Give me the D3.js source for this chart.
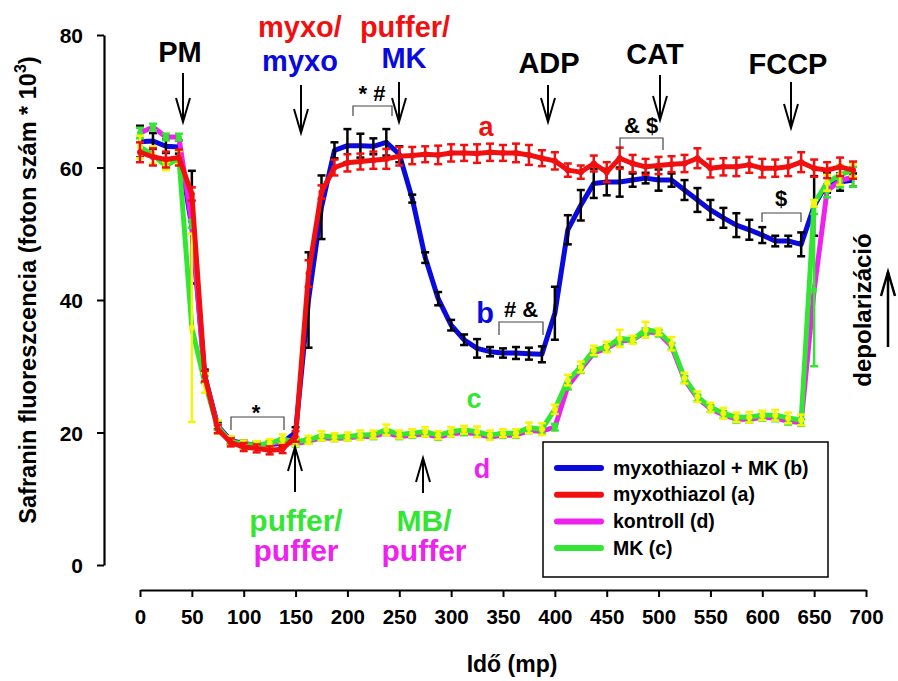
<!DOCTYPE html>
<html><head><meta charset="utf-8">
<script src="https://cdn.jsdelivr.net/npm/d3@7"></script>
<style>
body{margin:0;background:#fff}
svg text{font-family:"Liberation Sans",Arial,sans-serif;font-weight:bold}
</style>
</head><body><svg id="chart" width="898" height="681"></svg>
<script>
// ---- data ----
const time = [0,12.5,25,37.5,50,62.5,75,87.5,100,112.5,125,137.5,150,162.5,175,187.5,200,212.5,225,237.5,250,262.5,275,287.5,300,312.5,325,337.5,350,362.5,375,387.5,400,412.5,425,437.5,450,462.5,475,487.5,500,512.5,525,537.5,550,562.5,575,587.5,600,612.5,625,637.5,650,662.5,675,687.5];

const valB = [63.9,64.0,63.2,63.1,51.0,28.5,21.0,18.8,18.3,18.1,18.1,18.5,20.0,40.0,54.0,62.6,63.3,63.3,63.2,63.8,62.0,55.3,46.4,40.2,36.2,34.0,32.7,32.2,32.0,32.0,31.9,31.8,38.0,50.6,54.3,57.6,57.8,57.8,58.1,58.4,58.1,58.1,56.6,55.1,53.6,52.4,51.3,50.6,49.8,48.9,48.9,48.4,54.2,57.7,57.8,58.1];
const errB = [2.4,1.2,1.0,1.0,8.5,1.0,0.5,0.5,0.5,0.5,0.5,0.5,0.8,7.2,4.8,1.2,2.5,1.8,1.2,2.0,1.2,0.6,0.8,1.0,0.8,0.8,1.4,0.7,0.7,0.9,0.9,1.2,4.0,2.2,2.3,2.2,2.0,2.2,1.0,0.8,1.6,1.0,1.5,1.8,1.5,1.5,1.8,1.5,1.2,0.8,0.8,1.8,4.5,1.5,1.3,1.0];

const valA = [62.3,61.6,61.2,61.5,56.0,28.5,20.5,18.5,17.8,17.6,17.3,17.5,19.4,44.0,56.3,60.0,60.7,60.9,61.1,61.3,61.7,61.8,62.0,61.9,62.2,62.2,62.1,62.3,62.2,62.2,61.9,61.4,61.0,59.6,59.3,60.6,59.3,61.4,60.6,60.1,60.3,60.5,60.6,61.4,59.9,60.1,60.1,60.4,59.9,59.9,60.1,60.8,59.9,59.6,60.1,59.6];
const errA = [1.5,1.3,1.2,1.2,1.0,0.8,0.6,0.6,0.6,0.6,0.6,0.6,0.8,2.0,1.0,1.2,1.3,1.2,1.3,1.5,1.4,1.3,1.2,1.4,1.3,1.2,1.4,1.3,1.2,1.4,1.5,1.2,1.3,1.0,1.0,1.2,1.5,1.6,1.3,1.2,1.3,1.2,1.3,1.5,1.4,1.3,1.4,1.2,1.4,1.3,1.4,1.5,1.3,1.2,1.4,1.3];

const valD = [65.2,66.1,64.6,64.6,51.5,28.0,20.8,18.6,18.0,18.0,18.2,18.7,18.3,18.7,19.2,19.1,19.2,19.4,19.4,20.0,19.4,19.6,19.8,19.3,19.8,20.0,19.8,19.3,19.6,19.6,20.3,20.2,20.8,27.0,29.5,32.0,32.7,33.8,34.0,35.2,35.0,33.0,28.0,25.2,23.6,22.7,22.0,22.0,22.3,22.2,21.7,21.5,41.5,56.5,58.0,58.6];
const errD = [0.8,0.5,0.5,0.5,0.6,0.5,0.4,0.4,0.4,0.4,0.4,0.4,0.4,0.4,0.4,0.4,0.4,0.4,0.4,0.4,0.4,0.4,0.4,0.4,0.4,0.4,0.4,0.4,0.4,0.4,0.4,0.4,0.5,0.5,0.5,0.5,0.5,0.5,0.5,0.5,0.5,0.5,0.5,0.5,0.5,0.5,0.5,0.5,0.5,0.5,0.5,0.5,11.5,1.0,1.0,1.5];

const valC = [63.1,61.9,60.2,61.5,35.8,27.5,20.8,18.7,18.2,18.1,18.4,19.0,18.6,18.9,19.5,19.3,19.4,19.6,19.7,20.4,19.7,19.9,20.1,19.6,20.1,20.4,20.1,19.6,19.9,19.9,20.7,20.5,23.5,27.9,29.9,32.4,32.9,34.2,34.0,35.5,35.2,33.4,28.2,25.4,23.8,22.9,22.3,22.3,22.6,22.6,22.2,21.9,54.6,57.7,58.9,59.6];
const errC = [1.7,1.3,0.6,1.0,14.2,1.5,1.0,0.7,0.6,0.6,0.6,0.7,0.6,0.6,0.7,0.6,0.6,0.7,0.6,0.8,0.6,0.6,0.7,0.6,0.7,0.6,0.8,0.7,0.6,0.6,0.8,0.9,0.7,0.8,0.8,0.7,0.8,1.3,0.6,1.2,0.5,1.0,0.8,0.8,0.7,0.8,0.7,0.8,0.7,0.8,0.8,0.8,0.5,1.2,1.5,1.0];

const xTicks = [0,50,100,150,200,250,300,350,400,450,500,550,600,650,700];
const yTicks = [0,20,40,60,80];

const legendLabels = ["myxothiazol + MK (b)","myxothiazol (a)","kontroll (d)","MK (c)"];
const legendColors = ["#0a0adf","#f01010","#ee22ee","#33e633"];

// ---- setup ----
const svg = d3.select("#chart");
const x = d3.scaleLinear().domain([0,700]).range([140,866]);
const y = d3.scaleLinear().domain([0,80]).range([565,35]);

// axes
const yAxis = svg.append("g").attr("transform","translate(104,0)")
  .call(d3.axisLeft(y).tickValues(yTicks).tickSize(7).tickPadding(14).tickSizeOuter(0));
yAxis.selectAll("text").attr("font-size",21).attr("fill","#000").attr("dy","0.36em");
yAxis.select(".domain").attr("stroke-width",2.2);
yAxis.selectAll(".tick line").attr("stroke-width",2);

const xAxis = svg.append("g").attr("transform","translate(0,590)")
  .call(d3.axisBottom(x).tickValues(xTicks).tickSize(7).tickPadding(12).tickSizeOuter(0));
xAxis.selectAll("text").attr("font-size",20.5).attr("fill","#000").attr("dy","0.71em");
xAxis.select(".domain").attr("stroke-width",2.2);
xAxis.selectAll(".tick line").attr("stroke-width",2);

// axis titles
svg.append("text").attr("x",512).attr("y",672).attr("text-anchor","middle").attr("font-size",23).text("Idő (mp)");
const yl = svg.append("text").attr("transform","translate(36,290) rotate(-90)").attr("text-anchor","middle").attr("font-size",23.5);
yl.append("tspan").text("Safranin fluoreszcencia (foton szám * 10");
yl.append("tspan").attr("font-size",16).attr("dy",-10).text("3");
yl.append("tspan").attr("dy",10).text(")");

// series
const series = [
  {v:valB, e:errB, line:"#0a0adf", bar:"#000", mark:"#000", w:5},
  {v:valD, e:errD, line:"#ee22ee", bar:"#33e633", mark:"#33e633", w:5},
  {v:valC, e:errC, line:"#33e633", bar:"#f5f50a", mark:"#f5f50a", w:5},
  {v:valA, e:errA, line:"#f01010", bar:"#f01010", mark:"#f01010", w:5}
];
const lineGen = d3.line().x((d,i)=>x(time[i])).y(d=>y(d));
series.forEach(s=>{
  const g = svg.append("g");
  g.append("path").datum(s.v).attr("d",lineGen).attr("fill","none").attr("stroke",s.line)
    .attr("stroke-width",s.w).attr("stroke-linejoin","round");
  const eb = g.selectAll("g.eb").data(s.v).join("g");
  eb.append("line").attr("x1",(d,i)=>x(time[i])).attr("x2",(d,i)=>x(time[i]))
    .attr("y1",(d,i)=>y(d+s.e[i])).attr("y2",(d,i)=>y(d-s.e[i])).attr("stroke",s.bar).attr("stroke-width",2.5);
  eb.append("line").attr("x1",(d,i)=>x(time[i])-4).attr("x2",(d,i)=>x(time[i])+4)
    .attr("y1",(d,i)=>y(d+s.e[i])).attr("y2",(d,i)=>y(d+s.e[i])).attr("stroke",s.bar).attr("stroke-width",2.5);
  eb.append("line").attr("x1",(d,i)=>x(time[i])-4).attr("x2",(d,i)=>x(time[i])+4)
    .attr("y1",(d,i)=>y(d-s.e[i])).attr("y2",(d,i)=>y(d-s.e[i])).attr("stroke",s.bar).attr("stroke-width",2.5);
  if (s.mark !== "#000")
    g.selectAll("circle").data(s.v).join("circle").attr("cx",(d,i)=>x(time[i])).attr("cy",d=>y(d))
      .attr("r",3).attr("fill",s.mark);
});

// annotations
function txt(t,xx,yy,size,color){
  svg.append("text").attr("x",xx).attr("y",yy).attr("text-anchor","middle")
    .attr("font-size",size).attr("fill",color||"#000").text(t);
}
function downArrow(xx,y0,y1){
  const g=svg.append("g").attr("stroke","#000").attr("stroke-width",2).attr("fill","none");
  g.append("line").attr("x1",xx).attr("x2",xx).attr("y1",y0).attr("y2",y1);
  g.append("polyline").attr("points",`${xx-7},${y1-24} ${xx},${y1} ${xx+7},${y1-24}`);
}
function upArrow(xx,y0,y1,w){
  const g=svg.append("g").attr("stroke","#000").attr("stroke-width",w||2).attr("fill","none");
  g.append("line").attr("x1",xx).attr("x2",xx).attr("y1",y0).attr("y2",y1);
  g.append("polyline").attr("points",`${xx-7},${y1+24} ${xx},${y1} ${xx+7},${y1+24}`);
}
function bracket(x0,x1,yy,y2){
  svg.append("path").attr("d",`M${x0},${y2}V${yy}H${x1}V${y2}`).attr("fill","none")
    .attr("stroke","#444").attr("stroke-width",1.2);
}
const RED="#f01010", BLUE="#0a0adf", GREEN="#33e633", MAG="#ee22ee";
txt("PM",180,62,29);
downArrow(183,73,122);
txt("myxo/",300,37,29,RED);
txt("myxo",300,71,29,BLUE);
downArrow(301,85,133);
txt("puffer/",405,37,29,RED);
txt("MK",404,68,29,BLUE);
downArrow(399,82,122);
txt("ADP",549,73,29);
downArrow(548,85,122);
txt("CAT",655,64,29);
downArrow(660,75,120);
txt("FCCP",788,74,29);
downArrow(791,82,128);

txt("* #",372,101,22);
bracket(353,392,106,116);
txt("a",486,136,27,RED);
txt("& $",641,133,22);
bracket(620,663,138,150);
txt("$",781,206,22);
bracket(762,801,213,222);
txt("b",485,323,29,BLUE);
txt("# &",521,317,22);
bracket(499,543,322,335);
txt("c",474,408,27,GREEN);
txt("d",482,478,27,MAG);
txt("*",256,420,22);
bracket(231,284,417,430);

upArrow(295,492,447);
txt("puffer/",296,531,30,GREEN);
txt("puffer",296,561,30,MAG);
upArrow(423,493,458);
txt("MB/",424,531,30,GREEN);
txt("puffer",424,561,30,MAG);

svg.append("text").attr("transform","translate(871,310) rotate(-90)").attr("text-anchor","middle")
  .attr("font-size",24).text("depolarizáció");
upArrow(888,347,272,2.5);

// legend
svg.append("rect").attr("x",543).attr("y",442).attr("width",285).attr("height",135)
  .attr("fill","#fff").attr("stroke","#000").attr("stroke-width",1.5);
legendLabels.forEach((l,i)=>{
  const yy = 468 + i*26.7;
  svg.append("line").attr("x1",557).attr("x2",601).attr("y1",yy).attr("y2",yy)
    .attr("stroke",legendColors[i]).attr("stroke-width",6).attr("stroke-linecap","round");
  svg.append("text").attr("x",613).attr("y",yy+6.5).attr("font-size",19.5).text(l);
});
</script>
</body></html>
